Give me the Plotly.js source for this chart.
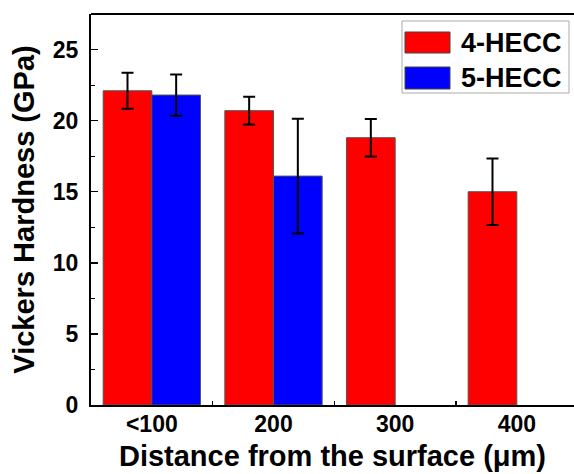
<!DOCTYPE html>
<html>
<head>
<meta charset="utf-8">
<script src="https://cdn.plot.ly/plotly-3.0.1.min.js"></script>
<style>
html, body { margin: 0; padding: 0; overflow: hidden; background: #fff; }
#chart { width: 574px; height: 474px; }
</style>
</head>
<body>
<div id="chart"></div>
<script>
// ---- data ----
const categories = ['<100', '200', '300', '400'];
const hecc4 = [22.1, 20.7, 18.8, 15.0];
const hecc4Err = [1.27, 0.98, 1.32, 2.34];
const hecc5 = [21.8, 16.1, null, null];
const hecc5Err = [1.45, 4.03, 0, 0];
const seriesNames = ['4-HECC', '5-HECC'];
const yTicks = [0, 5, 10, 15, 20, 25];

// ---- layout helpers ----
const W = 574, H = 474;
const M = { l: 91, r: 0, t: 14, b: 69 };
const pw = W - M.l - M.r, ph = H - M.t - M.b;
const px = x => (x - M.l) / pw;
const py = y => 1 - (y - M.t) / ph;

const font = { family: 'Arial, "Liberation Sans", sans-serif', color: '#000' };
const bold = Object.assign({}, font, { weight: 'bold' });
const colors = ['#FF0000', '#0000FF'];

const traces = [
  { type: 'bar', name: seriesNames[0], x: categories, y: hecc4,
    marker: { color: colors[0], line: { color: '#555', width: 1 } },
    error_y: { type: 'data', array: hecc4Err, visible: true, color: '#000', thickness: 2, width: 6 }, showlegend: false },
  { type: 'bar', name: seriesNames[1], x: categories, y: hecc5,
    marker: { color: colors[1], line: { color: '#555', width: 1 } },
    error_y: { type: 'data', array: hecc5Err, visible: true, color: '#000', thickness: 2, width: 6 }, showlegend: false }
];

// top frame line + custom legend with large swatches
const shapes = [
  { type: 'line', xref: 'paper', yref: 'paper', x0: 0, x1: 1, y0: 1, y1: 1, line: { color: '#000', width: 2 } },
  { type: 'rect', xref: 'paper', yref: 'paper', x0: px(402), x1: px(569), y0: py(21), y1: py(93),
    line: { color: '#aaa', width: 1 }, fillcolor: 'rgba(255,255,255,0)' },
  { type: 'rect', xref: 'paper', yref: 'paper', x0: px(405), x1: px(450), y0: py(32), y1: py(53),
    line: { color: '#444', width: 1 }, fillcolor: colors[0] },
  { type: 'rect', xref: 'paper', yref: 'paper', x0: px(405), x1: px(450), y0: py(67), y1: py(89),
    line: { color: '#444', width: 1 }, fillcolor: colors[1] }
];
const annotations = [
  { xref: 'paper', yref: 'paper', x: px(459), y: py(43), xanchor: 'left', yanchor: 'middle',
    text: seriesNames[0], showarrow: false, font: Object.assign({}, bold, { size: 27 }) },
  { xref: 'paper', yref: 'paper', x: px(459), y: py(78), xanchor: 'left', yanchor: 'middle',
    text: seriesNames[1], showarrow: false, font: Object.assign({}, bold, { size: 27 }) }
];

const layout = {
  width: W, height: H, margin: M, paper_bgcolor: '#fff', plot_bgcolor: '#fff',
  barmode: 'group', bargap: 0.2, bargroupgap: 0, font: font, showlegend: false,
  xaxis: { type: 'category', range: [-0.5, 3.47], tickson: 'boundaries', ticks: 'inside', ticklen: 4, tickwidth: 1.5, tickcolor: '#000',
    showline: true, linecolor: '#000', linewidth: 2, mirror: false, showgrid: false, zeroline: false, ticklabelstandoff: -3,
    tickfont: Object.assign({}, bold, { size: 23 }),
    title: { text: 'Distance from the surface (μm)', font: Object.assign({}, bold, { size: 29 }), standoff: 10 }, automargin: false },
  yaxis: { range: [0, 27.5], tickvals: yTicks, ticks: 'inside', ticklen: 7, tickwidth: 1.5, tickcolor: '#000',
    minor: { dtick: 2.5, tick0: 0, ticks: 'inside', ticklen: 4, tickwidth: 1, tickcolor: '#000', showgrid: false },
    showline: true, linecolor: '#000', linewidth: 2, showgrid: false, zeroline: false, ticklabelstandoff: 6,
    tickfont: Object.assign({}, bold, { size: 23 }),
    title: { text: 'Vickers Hardness (GPa)', font: Object.assign({}, bold, { size: 29 }), standoff: 10 }, automargin: false },
  shapes: shapes, annotations: annotations
};

Plotly.newPlot('chart', traces, layout, { displayModeBar: false, staticPlot: true });
</script>
</body>
</html>
